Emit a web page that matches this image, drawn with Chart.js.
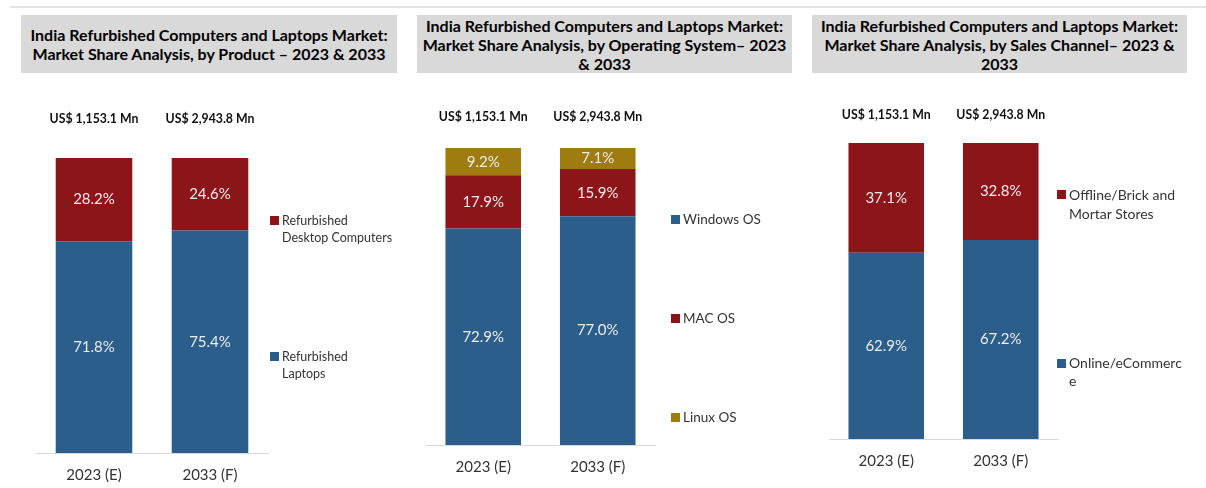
<!DOCTYPE html>
<html>
<head>
<meta charset="utf-8">
<script src="https://cdn.jsdelivr.net/npm/chart.js@4.4.1/dist/chart.umd.min.js"></script>
<style>
  html, body { margin: 0; padding: 0; background: #fff; }
  body { width: 1206px; height: 488px; position: relative; overflow: hidden; font-family: Lato, "Open Sans", sans-serif; }
  .topline { position: absolute; left: 10px; right: 0; top: 6px; height: 2px; background: #e4e4e4; }
  .title { position: absolute; top: 15px; height: 58px; background: #d9d9d9; color: #000;
           font-weight: bold; font-size: 16px; line-height: 19px; text-align: center;
           display: flex; align-items: center; justify-content: center; }
  canvas { position: absolute; left: 0; top: 0; }
  .legend { position: absolute; color: #333; white-space: pre-line; }
  .legend .box { position: absolute; left: -12px; width: 9px; height: 9px; }
</style>
</head>
<body>
<div class="topline"></div>
<div class="title" style="left:21px;width:376px">India Refurbished Computers and Laptops Market:<br>Market Share Analysis, by Product – 2023 &amp; 2033</div>
<div class="title" style="left:417px;width:375px">India Refurbished Computers and Laptops Market:<br>Market Share Analysis, by Operating System– 2023<br>&amp; 2033</div>
<div class="title" style="left:812px;width:375px">India Refurbished Computers and Laptops Market:<br>Market Share Analysis, by Sales Channel– 2023 &amp;<br>2033</div>

<canvas id="productChart" width="1206" height="488"></canvas>
<canvas id="osChart" width="1206" height="488"></canvas>
<canvas id="channelChart" width="1206" height="488"></canvas>

<script>
// données
const years = ["2023 (E)", "2033 (F)"];
const marketTotals = ["US$ 1,153.1 Mn", "US$ 2,943.8 Mn"];

// par produit
const laptopShare = [71.8, 75.4];
const desktopShare = [28.2, 24.6];

// par système d'exploitation
const windowsShare = [72.9, 77.0];
const macShare = [17.9, 15.9];
const linuxShare = [9.2, 7.1];

// par canal de vente
const onlineShare = [62.9, 67.2];
const offlineShare = [37.1, 32.8];

const BLUE = "#2c5e8c";
const RED = "#8c1519";
const GOLD = "#9f7c10";

// étiquettes de pourcentage au centre des segments
const valueLabels = {
  id: "valueLabels",
  afterDatasetsDraw(chart) {
    const ctx = chart.ctx;
    ctx.save();
    ctx.font = "15px Lato";
    ctx.fillStyle = "#ececec";
    ctx.textAlign = "center";
    ctx.textBaseline = "middle";
    chart.data.datasets.forEach((ds, di) => {
      chart.getDatasetMeta(di).data.forEach((bar, i) => {
        ctx.fillText(ds.data[i].toFixed(1) + "%", bar.x, (bar.y + bar.base) / 2);
      });
    });
    ctx.restore();
  },
};

// total du marché au-dessus des barres
const totalLabels = {
  id: "totalLabels",
  afterDraw(chart, args, opts) {
    const ctx = chart.ctx;
    const xScale = chart.scales.x;
    ctx.save();
    ctx.font = "bold 12.3px Lato";
    ctx.fillStyle = "#111";
    ctx.textAlign = "center";
    ctx.textBaseline = "middle";
    marketTotals.forEach((t, i) => {
      ctx.fillText(t, xScale.getPixelForValue(i), chart.chartArea.top - opts.offset);
    });
    ctx.restore();
  },
};

function makeChart(id, area, datasets, totalOffset) {
  return new Chart(document.getElementById(id), {
    type: "bar",
    data: {
      labels: years,
      datasets: datasets.map((d) => ({
        label: d.label,
        data: d.data,
        backgroundColor: d.color,
        borderWidth: 0,
        categoryPercentage: 1,
        barPercentage: 0.66,
      })),
    },
    options: {
      responsive: false,
      animation: false,
      events: [],
      layout: { padding: { left: area.left, right: 1206 - area.right, top: area.top, bottom: 0 } },
      plugins: {
        legend: { display: false },
        tooltip: { enabled: false },
        totalLabels: { offset: totalOffset },
      },
      scales: {
        x: {
          stacked: true,
          grid: { display: false, drawTicks: false },
          border: { display: true, color: "#d9d9d9", width: 1 },
          ticks: { color: "#333", font: { family: "Lato", size: 15 }, padding: 13 },
          afterFit(scale) {
            scale.height = 488 - area.bottom;
          },
        },
        y: { stacked: true, display: false, min: 0, max: 100 },
      },
    },
    plugins: [valueLabels, totalLabels],
  });
}

makeChart("productChart", { left: 36, right: 268, top: 158, bottom: 453 }, [
  { label: "Refurbished\nLaptops", data: laptopShare, color: BLUE },
  { label: "Refurbished\nDesktop Computers", data: desktopShare, color: RED },
], 39);

makeChart("osChart", { left: 426, right: 655, top: 148, bottom: 445 }, [
  { label: "Windows OS", data: windowsShare, color: BLUE },
  { label: "MAC OS", data: macShare, color: RED },
  { label: "Linux OS", data: linuxShare, color: GOLD },
], 31);

makeChart("channelChart", { left: 829, right: 1058, top: 143, bottom: 439 }, [
  { label: "Online/eCommerc\ne", data: onlineShare, color: BLUE },
  { label: "Offline/Brick and\nMortar Stores", data: offlineShare, color: RED },
], 28);

// légendes
const legendItems = [
  { text: "Refurbished\nDesktop Computers", color: RED, x: 282, y: 212, size: 12.5, lh: 17 },
  { text: "Refurbished\nLaptops", color: BLUE, x: 282, y: 348, size: 12.5, lh: 17 },
  { text: "Windows OS", color: BLUE, x: 683, y: 210, size: 13.5, lh: 18 },
  { text: "MAC OS", color: RED, x: 683, y: 309, size: 13.5, lh: 18 },
  { text: "Linux OS", color: GOLD, x: 683, y: 408, size: 13.5, lh: 18 },
  { text: "Offline/Brick and\nMortar Stores", color: RED, x: 1069, y: 185, size: 14, lh: 19 },
  { text: "Online/eCommerc\ne", color: BLUE, x: 1069, y: 354, size: 14, lh: 18 },
];

legendItems.forEach((item) => {
  const div = document.createElement("div");
  div.className = "legend";
  div.style.left = item.x + "px";
  div.style.top = item.y + "px";
  div.style.fontSize = item.size + "px";
  div.style.lineHeight = item.lh + "px";
  div.textContent = item.text;
  const box = document.createElement("span");
  box.className = "box";
  box.style.background = item.color;
  box.style.top = (item.lh - 9) / 2 + "px";
  div.appendChild(box);
  document.body.appendChild(div);
});
</script>
</body>
</html>
